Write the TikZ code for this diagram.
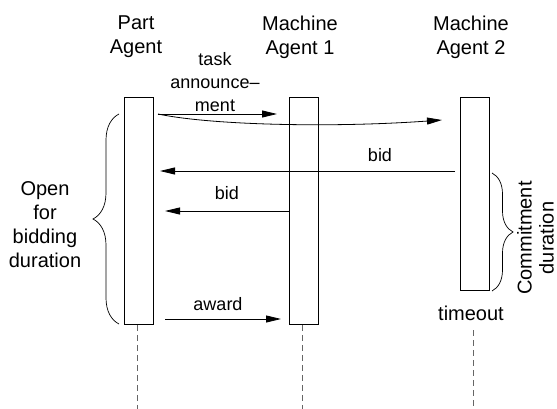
\documentclass[tikz,border=0pt]{standalone}
\usepackage{fontspec}
\setmainfont{Liberation Sans}
\usetikzlibrary{arrows.meta,decorations.pathreplacing}
\begin{document}
\begin{tikzpicture}[x=1pt,y=-1pt,
  big/.style={align=center,inner sep=0pt,font=\fontsize{20}{24}\selectfont},
  small/.style={align=center,inner sep=0pt,font=\fontsize{18}{23}\selectfont},
  lifebox/.style={draw,line width=0.9pt,minimum width=29pt,inner sep=0pt,anchor=north west},
  msg/.style={line width=0.8pt,-{Triangle[length=15pt,width=7pt]}},
  life/.style={draw=black!60,line width=0.9pt,dash pattern=on 6pt off 4pt},
  brc/.style={decorate,line width=0.7pt}]
\useasboundingbox (0,0) rectangle (557,409);
% titles
\node[big] (tpa) at (136,37) {Part\\Agent};
\node[big] (tm1) at (300,37) {Machine\\Agent 1};
\node[big] (tm2) at (471,37) {Machine\\Agent 2};
% activation boxes
\node[lifebox,minimum height=227pt] (pa) at (124,97) {};
\node[lifebox,minimum height=227pt] (m1) at (289,97) {};
\node[lifebox,minimum height=193pt] (m2) at (460,97) {};
% lifelines
\coordinate (pae) at (137,409);
\coordinate (m1e) at (302,409);
\coordinate (m2s) at (473,330);
\coordinate (m2e) at (473,409);
\draw[life] (pa.south -| pae) -- (pae);
\draw[life] (m1.south -| m1e) -- (m1e);
\draw[life] (m2s) -- (m2e);
% task announcement
\coordinate (ta) at (158,114);
\coordinate (ta1) at (277,114);
\coordinate (ta2) at (442,120);
\draw[msg] (ta) -- (ta1);
\draw[msg] (ta) .. controls (210,125) and (330,128) .. (ta2);
\node[small] (tal) at (215,82) {task\\announce–\\ment};
% bids
\coordinate (b1s) at (455,171);
\coordinate (b1e) at (160,171);
\draw[msg] (b1s) -- (b1e);
\node[small,anchor=base] (b1l) at (380,162) {bid};
\coordinate (b2e) at (165,211);
\draw[msg] (m1.west |- b2e) -- (b2e);
\node[small,anchor=base] (b2l) at (227,200) {bid};
% award
\coordinate (aws) at (165,319);
\coordinate (awe) at (281,319);
\draw[msg] (aws) -- (awe);
\node[small,anchor=base] (awl) at (218,310) {award};
% timeout
\node[big,anchor=base] (to) at (471,320) {timeout};
% braces
\coordinate (lb1) at (119,324);
\coordinate (lb2) at (119,114);
\draw[brc,decoration={brace,amplitude=26pt}] (lb1) -- (lb2);
\node[big] (obd) at (45,225) {Open\\for\\bidding\\duration};
\coordinate (rb1) at (492,173);
\coordinate (rb2) at (492,291);
\draw[brc,decoration={brace,amplitude=21pt}] (rb1) -- (rb2);
\node[align=center,inner sep=0pt,font=\fontsize{20}{22}\selectfont,rotate=90] (cd) at (535.5,238) {Commitment\\duration};
\end{tikzpicture}
\end{document}
